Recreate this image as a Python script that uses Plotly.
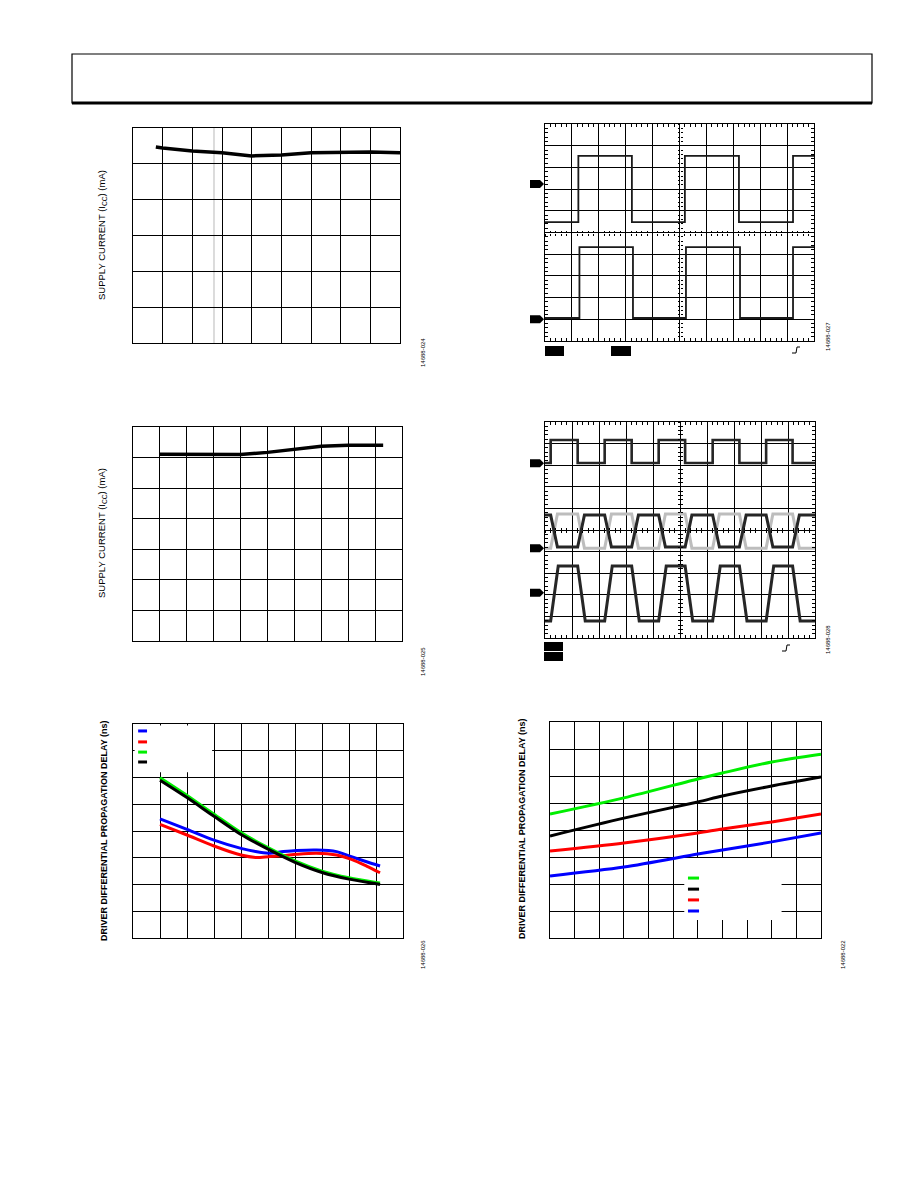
import plotly.graph_objects as go

W, H = 918, 1188

# ---------------- data (grid-division units) ----------------
# Panel 1: supply current
p1_x = [0.77, 1, 2, 3, 4, 5, 6, 7, 8, 9]
p1_icc = [5.47, 5.44, 5.36, 5.31, 5.22, 5.25, 5.31, 5.33, 5.33, 5.31]
p1_ref_x = 2.73

# Panel 2: supply current
p2_x = [1, 2, 3, 4, 5, 6, 7, 8, 9.3]
p2_icc = [6.11, 6.10, 6.10, 6.10, 6.17, 6.27, 6.37, 6.40, 6.40]

# Panel 3: driver differential propagation delay
p3_x_br = [1, 2, 3, 4, 4.54, 5.02, 5.57, 6.06, 6.8, 7.54, 8.09, 8.65, 9.15]
p3_blue = [4.45, 4.06, 3.66, 3.35, 3.23, 3.17, 3.23, 3.27, 3.29, 3.23, 3.04, 2.85, 2.69]
p3_red = [4.25, 3.85, 3.44, 3.10, 3.01, 3.04, 3.08, 3.13, 3.17, 3.10, 2.94, 2.69, 2.44]
p3_x_gk = [1, 2, 3, 4, 5, 6, 7, 8, 9, 9.15]
p3_green = [5.99, 5.33, 4.63, 3.94, 3.38, 2.88, 2.50, 2.25, 2.08, 2.06]
p3_black = [5.90, 5.25, 4.55, 3.87, 3.32, 2.83, 2.45, 2.20, 2.03, 2.00]
p3_colors = ["#0000ff", "#ff0000", "#00ee00", "#000000"]
p3_legend_y = [7.74, 7.33, 6.95, 6.58]

# Panel 6: driver differential propagation delay
p6_x = [0, 3, 6, 7, 9, 11]
p6_green = [4.59, 5.19, 5.89, 6.11, 6.52, 6.81]
p6_black = [3.78, 4.44, 5.04, 5.26, 5.63, 5.96]
p6_red = [3.22, 3.52, 3.89, 4.04, 4.30, 4.59]
p6_blue = [2.30, 2.63, 3.11, 3.26, 3.56, 3.89]
p6_colors = ["#00ee00", "#000000", "#ff0000", "#0000ff"]
p6_legend_y = [2.22, 1.81, 1.41, 1.00]

# Panel 4: scope (divisions)
p4_ch1_edges = [1.24, 3.23, 5.20, 7.21, 9.22]
p4_ch1_levels = [5.48, 8.53]
p4_ch1_ground = 7.23
p4_ch2_edges = [1.28, 3.27, 5.24, 7.25, 9.22]
p4_ch2_levels = [1.06, 4.33]
p4_ch2_ground = 1.00

# Panel 5: scope (divisions)
p5_edges = [0.21, 1.21, 2.21, 3.21, 4.21, 5.19, 6.21, 7.20, 8.19, 9.17]
p5_ch1_levels = [8.10, 9.17]
p5_dark_levels = [4.21, 5.69]
p5_gray_levels = [4.16, 5.74]
p5_ch4_levels = [0.79, 3.33]
p5_grounds = [8.09, 4.15, 2.10]

ids = ["14688-024", "14688-025", "14688-026", "14688-027", "14688-028", "14688-022"]


def pxx(x):
    return x / W


def pyy(y):
    return 1 - y / H


# panel frames in page pixels: left, right, top, bottom, x-range, y-range
panels = {
    1: (133, 400, 128, 343, [0, 9], [0, 6]),
    2: (133, 402, 427, 641, [0, 10], [0, 7]),
    3: (133, 403, 724, 938, [0, 10], [0, 8]),
    4: (545, 814, 124, 341, [0, 10], [0, 10]),
    5: (545, 815, 422, 638, [0, 10], [0, 10]),
    6: (550, 821, 722, 938, [0, 11], [0, 8]),
}
scopes = {4, 5}


def wave(edges, levels, start_high, ramp, xmax=10):
    lo, hi = levels
    level = start_high
    xs = [0]
    ys = [hi if level else lo]
    for e in edges:
        cur = hi if level else lo
        level = not level
        nxt = hi if level else lo
        xs += [e, e + ramp]
        ys += [cur, nxt]
    xs.append(xmax)
    ys.append(hi if level else lo)
    return xs, ys


fig = go.Figure()
layout = dict(
    template="none",
    width=W, height=H, autosize=False,
    margin=dict(l=0, r=0, t=0, b=0, pad=0),
    paper_bgcolor="white", plot_bgcolor="white",
    showlegend=False,
    font=dict(family="Liberation Sans, Arial, sans-serif", color="#000000"),
)

for i, (l, r, t, b, xr, yr) in panels.items():
    xa = dict(domain=[pxx(l), pxx(r)], range=xr, dtick=1, tick0=0,
              showgrid=True, gridcolor="black", gridwidth=1.1,
              showline=True, linecolor="black", linewidth=1.3, mirror=True,
              showticklabels=False, zeroline=False, anchor=f"y{i}", fixedrange=True)
    ya = dict(domain=[pyy(b), pyy(t)], range=yr, dtick=1, tick0=0,
              showgrid=True, gridcolor="black", gridwidth=1.1,
              showline=True, linecolor="black", linewidth=1.3, mirror=True,
              showticklabels=False, zeroline=False, anchor=f"x{i}", fixedrange=True)
    if i in scopes:
        for a in (xa, ya):
            a.update(ticks="inside", ticklen=3, tickcolor="black", tickwidth=1,
                     mirror="allticks",
                     minor=dict(dtick=0.2, ticks="inside", ticklen=3,
                                tickcolor="black", tickwidth=1, showgrid=False))
    else:
        xa["ticks"] = ""
        ya["ticks"] = ""
    layout["xaxis" if i == 1 else f"xaxis{i}"] = xa
    layout["yaxis" if i == 1 else f"yaxis{i}"] = ya

# center-line ticks on the scope graticules (overlay axes)
n_extra = 7
for i in sorted(scopes):
    l, r, t, b, xr, yr = panels[i]
    for side_ticks in ("inside", "outside"):
        layout[f"xaxis{n_extra}"] = dict(
            overlaying=f"x{i}", anchor="free", position=pyy((t + b) / 2), range=xr,
            showgrid=False, showline=False, zeroline=False, showticklabels=False,
            ticks=side_ticks, ticklen=2, tickcolor="black", dtick=1,
            minor=dict(dtick=0.2, ticks=side_ticks, ticklen=2, tickcolor="black"),
            fixedrange=True)
        layout[f"yaxis{n_extra}"] = dict(
            overlaying=f"y{i}", anchor="free", position=pxx((l + r) / 2), range=yr,
            showgrid=False, showline=False, zeroline=False, showticklabels=False,
            ticks=side_ticks, ticklen=2, tickcolor="black", dtick=1,
            minor=dict(dtick=0.2, ticks=side_ticks, ticklen=2, tickcolor="black"),
            fixedrange=True)
        fig.add_trace(go.Scatter(x=[None], y=[None], xaxis=f"x{n_extra}", yaxis=f"y{n_extra}",
                                 mode="lines", hoverinfo="skip"))
        n_extra += 1

# ---------------- traces ----------------
fig.add_trace(go.Scatter(x=p1_x, y=p1_icc, mode="lines", line=dict(color="black", width=3.5),
                         xaxis="x", yaxis="y"))
fig.add_trace(go.Scatter(x=p2_x, y=p2_icc, mode="lines", line=dict(color="black", width=3.5),
                         xaxis="x2", yaxis="y2"))
for xs_, ys, c in zip([p3_x_br, p3_x_br, p3_x_gk, p3_x_gk],
                      [p3_blue, p3_red, p3_green, p3_black], p3_colors):
    fig.add_trace(go.Scatter(x=xs_, y=ys, mode="lines",
                             line=dict(color=c, width=3, shape="spline", smoothing=0.8),
                             xaxis="x3", yaxis="y3"))
for ys, c in zip([p6_green, p6_black, p6_red, p6_blue], p6_colors):
    fig.add_trace(go.Scatter(x=p6_x, y=ys, mode="lines",
                             line=dict(color=c, width=3, shape="spline", smoothing=0.8),
                             xaxis="x6", yaxis="y6"))

# scope 1
for edges, lv in [(p4_ch1_edges, p4_ch1_levels), (p4_ch2_edges, p4_ch2_levels)]:
    xs, ys = wave(edges, lv, False, 0.0)
    fig.add_trace(go.Scatter(x=xs, y=ys, mode="lines", line=dict(color="#1a1a1a", width=1.8),
                             xaxis="x4", yaxis="y4"))
# scope 2
xs, ys = wave(p5_edges, p5_ch1_levels, False, 0.0)
fig.add_trace(go.Scatter(x=xs, y=ys, mode="lines", line=dict(color="#262626", width=2.6),
                         xaxis="x5", yaxis="y5"))
xs, ys = wave(p5_edges, p5_gray_levels, False, 0.25)
fig.add_trace(go.Scatter(x=xs, y=ys, mode="lines", line=dict(color="#bdbdbd", width=3),
                         xaxis="x5", yaxis="y5"))
xs, ys = wave(p5_edges, p5_dark_levels, True, 0.25)
fig.add_trace(go.Scatter(x=xs, y=ys, mode="lines", line=dict(color="#262626", width=3),
                         xaxis="x5", yaxis="y5"))
xs, ys = wave(p5_edges, p5_ch4_levels, False, 0.28)
fig.add_trace(go.Scatter(x=xs, y=ys, mode="lines", line=dict(color="#262626", width=3),
                         xaxis="x5", yaxis="y5"))

# ---------------- shapes ----------------
shapes = []
# page header box
shapes.append(dict(type="rect", xref="paper", yref="paper", x0=pxx(72), x1=pxx(872),
                   y0=pyy(103), y1=pyy(54), line=dict(color="black", width=1.2)))
shapes.append(dict(type="line", xref="paper", yref="paper", x0=pxx(72), x1=pxx(872),
                   y0=pyy(103), y1=pyy(103), line=dict(color="black", width=3)))
# panel 1 reference line
shapes.append(dict(type="line", xref="x", yref="y", x0=p1_ref_x, x1=p1_ref_x, y0=0, y1=6,
                   line=dict(color="#c8c8c8", width=1.3), layer="below"))
# legend boxes (white, cover gridlines)
shapes.append(dict(type="rect", xref="x3", yref="y3", x0=0.06, x1=2.93, y0=6.2, y1=7.94,
                   fillcolor="white", line=dict(width=0), layer="above"))
shapes.append(dict(type="rect", xref="x6", yref="y6", x0=5.45, x1=9.4, y0=0.67, y1=2.96,
                   fillcolor="white", line=dict(width=0), layer="above"))
for c, yv in zip(p3_colors, p3_legend_y):
    shapes.append(dict(type="line", xref="x3", yref="y3", x0=0.19, x1=0.52, y0=yv, y1=yv,
                       line=dict(color=c, width=3)))
for c, yv in zip(p6_colors, p6_legend_y):
    shapes.append(dict(type="line", xref="x6", yref="y6", x0=5.6, x1=6.05, y0=yv, y1=yv,
                       line=dict(color=c, width=3)))
# scope ground markers
arrow = "M -15 -4 L -5 -4 L -1 0 L -5 4 L -15 4 Z"
for i, grounds in [(4, [p4_ch1_ground, p4_ch2_ground]), (5, p5_grounds)]:
    for g in grounds:
        shapes.append(dict(type="path", xref="paper", yref=f"y{i}", xsizemode="pixel",
                           ysizemode="pixel", xanchor=pxx(panels[i][0]), yanchor=g,
                           path=arrow, fillcolor="black", line=dict(width=0)))
# scope channel label blocks
for (x0, x1, y0, y1) in [(545, 564, 346, 356), (611, 631, 346, 356),
                         (544, 563, 642, 651), (544, 563, 652, 661)]:
    shapes.append(dict(type="rect", xref="paper", yref="paper", x0=pxx(x0), x1=pxx(x1),
                       y0=pyy(y1), y1=pyy(y0), fillcolor="black", line=dict(width=0)))
# trigger symbols
for (xa0, ya0) in [(792, 353), (782, 651)]:
    pts = [(xa0, ya0), (xa0 + 4, ya0), (xa0 + 5, ya0 - 6), (xa0 + 8, ya0 - 6)]
    path = "M " + " L ".join(f"{pxx(a)} {pyy(b)}" for a, b in pts)
    shapes.append(dict(type="path", xref="paper", yref="paper", path=path,
                       line=dict(color="black", width=1)))
layout["shapes"] = shapes

# ---------------- annotations ----------------
ann = []
titles = [
    (102, 235, "SUPPLY CURRENT (I<sub>CC</sub>) (mA)", 9.5),
    (102, 533, "SUPPLY CURRENT (I<sub>CC</sub>) (mA)", 9.5),
    (104, 831, "<b>DRIVER DIFFERENTIAL PROPAGATION DELAY (ns)</b>", 9),
    (522, 829, "<b>DRIVER DIFFERENTIAL PROPAGATION DELAY (ns)</b>", 9),
]
for x, y, txt, sz in titles:
    ann.append(dict(xref="paper", yref="paper", x=pxx(x), y=pyy(y), text=txt, showarrow=False,
                    textangle=-90, xanchor="center", yanchor="middle",
                    font=dict(size=sz, color="#000000")))
id_pos = [(423, 353), (423, 662), (423, 955), (828, 337), (828, 640), (843, 955)]
for (x, y), t in zip(id_pos, ids):
    ann.append(dict(xref="paper", yref="paper", x=pxx(x), y=pyy(y), text=t, showarrow=False,
                    textangle=-90, xanchor="center", yanchor="middle",
                    font=dict(size=6, color="#000000")))
layout["annotations"] = ann

fig.update_layout(**layout)
fig.write_html("out.html")
